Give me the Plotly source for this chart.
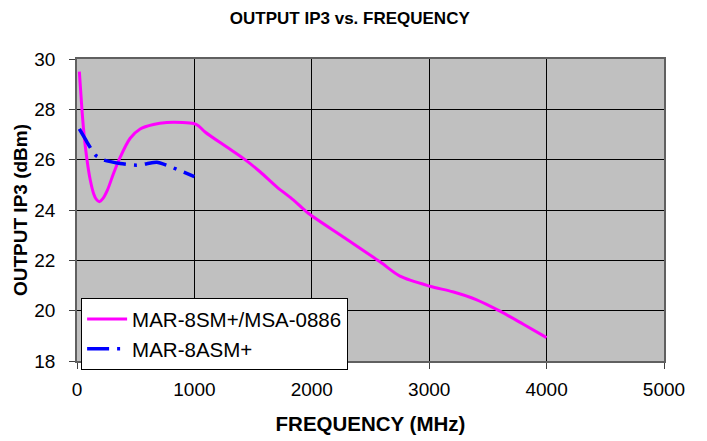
import plotly.graph_objects as go

# Data
freq_mar8sm = [20, 42, 62, 85, 113, 141, 165, 190, 220, 260, 311, 368, 453, 538, 651, 765, 900, 992,
               1034, 1091, 1276, 1417, 1559, 1701, 1842, 1970, 2268, 2581, 2751, 3007,
               3200, 3400, 3603, 3802, 4000]
ip3_mar8sm = [29.5, 28.0, 26.91, 26.0, 25.19, 24.66, 24.42, 24.33, 24.45, 24.8, 25.45, 26.1, 26.85, 27.22,
              27.4, 27.48, 27.48, 27.44, 27.35, 27.1, 26.5, 26.05, 25.52, 24.92, 24.4, 23.87,
              22.93, 21.94, 21.37, 20.97, 20.75, 20.44, 19.98, 19.46, 18.93]

freq_mar8asm = [20, 83, 155, 226, 368, 510, 595, 680, 765, 864, 1000]
ip3_mar8asm = [27.22, 26.72, 26.19, 25.99, 25.85, 25.78, 25.84, 25.9, 25.78, 25.59, 25.33]

x_ticks = [0, 1000, 2000, 3000, 4000, 5000]
y_ticks = [18, 20, 22, 24, 26, 28, 30]

FONT = "Liberation Sans, Arial, sans-serif"

fig = go.Figure()
fig.add_trace(go.Scatter(
    x=freq_mar8sm, y=ip3_mar8sm, mode="lines", name="MAR-8SM+/MSA-0886",
    line=dict(color="#FF00FF", width=3, shape="spline", smoothing=0.8),
))
fig.add_trace(go.Scatter(
    x=freq_mar8asm, y=ip3_mar8asm, mode="lines", name="MAR-8ASM+",
    line=dict(color="#0000FF", width=3.5, shape="spline", smoothing=0.6,
              dash="22px,8px,3px,8px"),
))

# page body has an 8px margin: figure is 699x433 placed at (8, 8)
fig.update_layout(
    width=699, height=433,
    margin=dict(l=69, r=43, t=51, b=80),
    paper_bgcolor="white",
    plot_bgcolor="#C0C0C0",
    font=dict(family=FONT, color="black", size=19),
    title=dict(text="<b>OUTPUT IP3 vs. FREQUENCY</b>", x=0.489, xanchor="center",
               y=0.977, yanchor="middle", font=dict(size=17, family=FONT)),
    showlegend=True,
    legend=dict(x=0.007, y=0.208, xanchor="left", yanchor="top",
                bgcolor="white", bordercolor="black", borderwidth=1,
                font=dict(size=20.5, family=FONT), tracegroupgap=0,
                itemwidth=40),
)
fig.update_xaxes(
    range=[0, 5000], tickvals=x_ticks, ticks="outside", ticklen=6, tickcolor="#404040",
    ticklabelstandoff=4,
    showgrid=True, gridcolor="black", gridwidth=1, automargin=False,
    showline=True, linecolor="#606060", linewidth=1.5, mirror=True, zeroline=False,
    title=dict(text="<b>FREQUENCY (MHz)</b>", font=dict(size=20.5, family=FONT), standoff=18),
)
fig.update_yaxes(
    range=[18, 30], tickvals=y_ticks, ticks="outside", ticklen=6, tickcolor="#404040",
    ticklabelstandoff=10,
    showgrid=True, gridcolor="black", gridwidth=1, automargin=False,
    showline=True, linecolor="#606060", linewidth=1.5, mirror=True, zeroline=False,
    title=dict(text="<b>OUTPUT IP3 (dBm)</b>", font=dict(size=19, family=FONT), standoff=2),
)

fig.write_html("out.html")
